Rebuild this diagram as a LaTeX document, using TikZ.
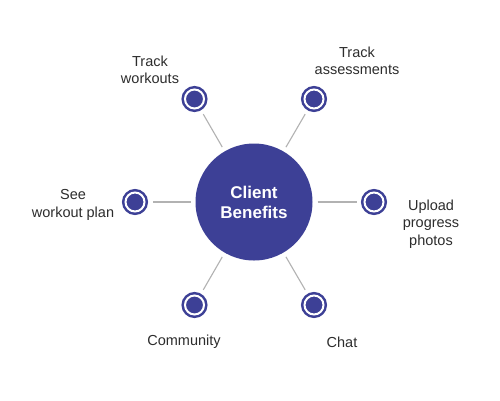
\documentclass[tikz,border=0pt]{standalone}
\usepackage{fontspec}
\setmainfont{Liberation Sans}
\definecolor{cbblue}{RGB}{61,64,150}
\definecolor{cbgray}{RGB}{178,178,178}
\definecolor{cbtext}{RGB}{45,45,45}
\begin{document}
\begin{tikzpicture}[x=1pt,y=1pt]
\tikzstyle{every node}+=[inner sep=0pt]
\tikzstyle{hub}=[circle, fill=cbblue, minimum size=117pt, outer sep=5pt, text=white, align=center, font=\fontsize{17}{20}\selectfont\bfseries]
\tikzstyle{dot}=[circle, fill=cbblue, draw=white, line width=2pt, minimum size=19pt, outer sep=8pt, preaction={draw=cbblue, line width=7pt}]
\tikzstyle{lbl}=[text=cbtext, align=center, font=\fontsize{14.5}{17.5}\selectfont]
\tikzstyle{spoke}=[draw=cbgray, line width=1.1pt]
\useasboundingbox (0,0) rectangle (500,-400);
\fill [white] (0,0) rectangle (500,-400);
% centre
\node [hub] (hub) at (254,-202) {Client\\Benefits};
% benefits around the hub
\node [dot] (workouts) at (194.5,-99) {};
\node [dot] (assess) at (314,-99) {};
\node [dot] (plan) at (135,-202) {};
\node [dot] (upload) at (374,-202) {};
\node [dot] (community) at (194.5,-305) {};
\node [dot] (chat) at (314,-305) {};
\draw [spoke] (hub) -- (workouts);
\draw [spoke] (hub) -- (assess);
\draw [spoke] (hub) -- (plan);
\draw [spoke] (hub) -- (upload);
\draw [spoke] (hub) -- (community);
\draw [spoke] (hub) -- (chat);
% labels
\node [lbl] (lworkouts) at (150,-70) {Track\\workouts};
\node [lbl] (lassess) at (357,-61) {Track\\assessments};
\node [lbl] (lplan) at (73,-205) {See\\workout plan};
\node [lbl] (lupload) at (431,-224) {Upload\\progress\\photos};
\node [lbl] (lcommunity) at (184,-342) {Community};
\node [lbl] (lchat) at (342,-342) {Chat};
\end{tikzpicture}
\end{document}
